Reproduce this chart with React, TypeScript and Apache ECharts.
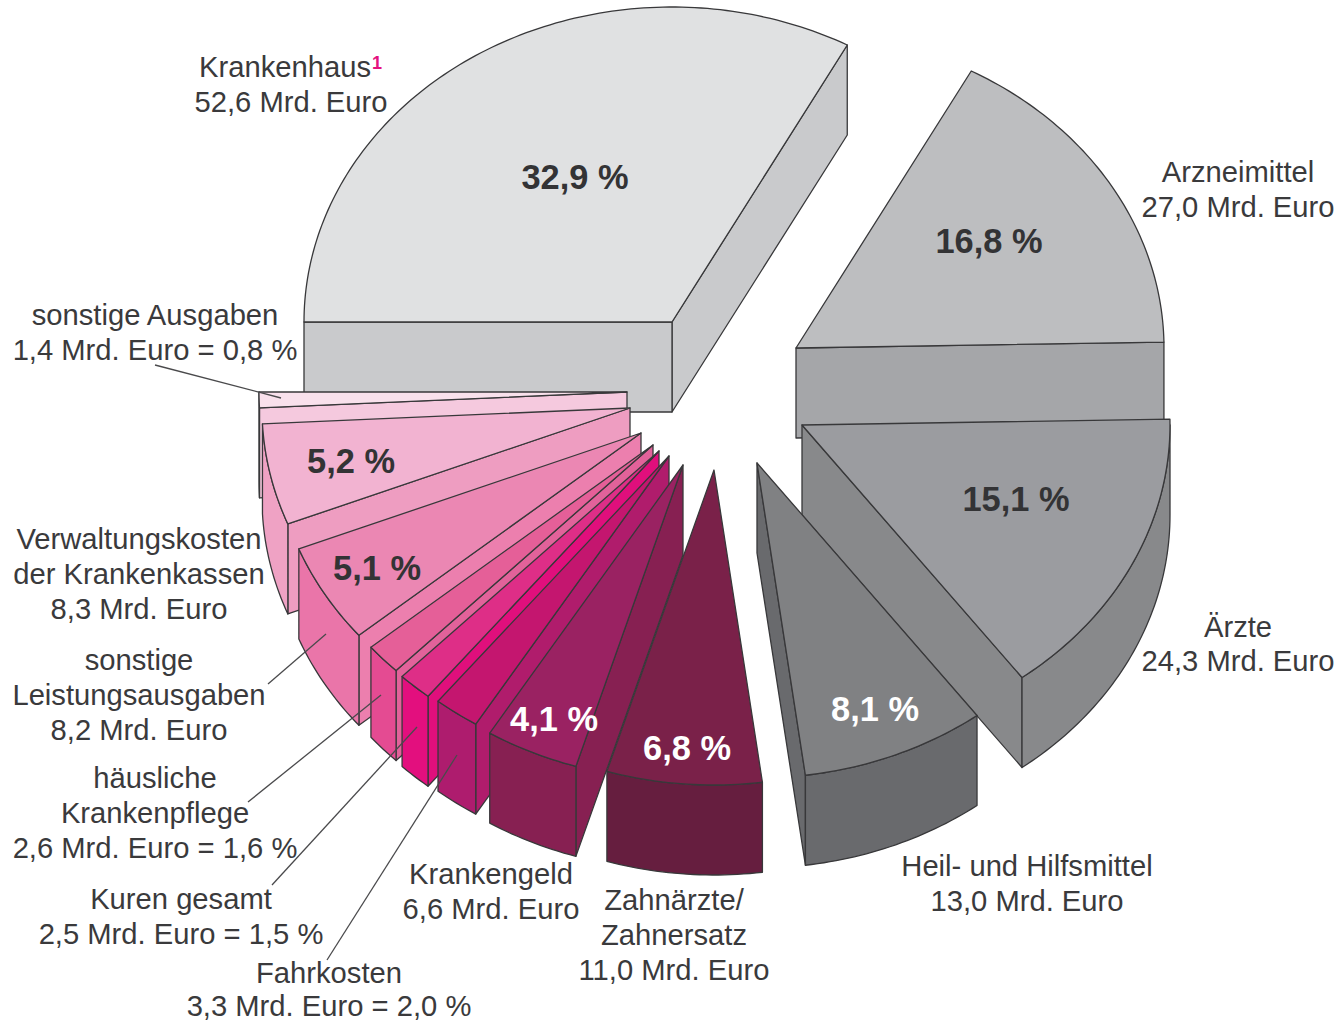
import React, { useEffect, useRef } from "react";
import * as echarts from "echarts";

// Data, clockwise from the 9 o'clock position
const sliceNames = ["Krankenhaus", "Arzneimittel", "Ärzte", "Heil- und Hilfsmittel", "Zahnärzte/Zahnersatz", "Krankengeld", "Fahrkosten", "Kuren gesamt", "häusliche Krankenpflege", "sonstige Leistungsausgaben", "Verwaltungskosten der Krankenkassen", "sonstige Ausgaben"];
const shares = [32.9, 16.8, 15.1, 8.1, 6.8, 4.1, 2.0, 1.5, 1.6, 5.1, 5.2, 0.8];

// Painting order, back to front
const paintOrder = [0, 1, 2, 3, 11, 10, 9, 8, 7, 6, 5, 4];

// Layout of the exploded pie
const RX = 368;
const RY = 315;
const DEPTH = 90;
const apexes = [[672, 322], [796, 348], [802, 425], [757, 463], [714, 470], [683, 465], [669, 456], [659, 451], [653, 445], [641, 433], [630, 408], [627, 392]];
const topColors = ["#e0e1e2", "#bdbec0", "#9b9ca0", "#808183", "#7a2149", "#9a2262", "#c4166f", "#de2e87", "#e55f98", "#eb87b3", "#f2b3d1", "#f9e1ec"];
const wallColors = ["#c9cacc", "#a5a6a9", "#88898b", "#696a6d", "#7f2050", "#872052", "#b01c6c", "#e00f7c", "#e2629a", "#ec7fae", "#ee9dc1", "#f5c9de"];
const rimColors = ["#c9cacc", "#a5a6a9", "#88898b", "#696a6d", "#661e3f", "#872052", "#ae1c6e", "#e30f7e", "#e44b92", "#ea75a9", "#efa2c4", "#f3bcd6"];
const percentPositions = [[575, 177], [989, 241], [1016, 499], [875, 709], [687, 748], [554, 719], null, null, null, [377, 568], [351, 461], null];
const percentColors = ["#333335", "#333335", "#333335", "#ffffff", "#ffffff", "#ffffff", "", "", "", "#333335", "#333335", ""];

// Outside labels: [text, centre x, centre y]
const outerLabels: [string, number, number][] = [
  ["Krankenhaus", 285, 67], ["52,6 Mrd. Euro", 291, 102],
  ["Arzneimittel", 1238, 172], ["27,0 Mrd. Euro", 1238, 207],
  ["Ärzte", 1238, 627], ["24,3 Mrd. Euro", 1238, 661],
  ["Heil- und Hilfsmittel", 1027, 866], ["13,0 Mrd. Euro", 1027, 901],
  ["Zahnärzte/", 674, 900], ["Zahnersatz", 674, 935], ["11,0 Mrd. Euro", 674, 970],
  ["Krankengeld", 491, 874], ["6,6 Mrd. Euro", 491, 909],
  ["Fahrkosten", 329, 973], ["3,3 Mrd. Euro = 2,0 %", 329, 1006],
  ["Kuren gesamt", 181, 899], ["2,5 Mrd. Euro = 1,5 %", 181, 934],
  ["häusliche", 155, 778], ["Krankenpflege", 155, 813], ["2,6 Mrd. Euro = 1,6 %", 155, 848],
  ["sonstige", 139, 660], ["Leistungsausgaben", 139, 695], ["8,2 Mrd. Euro", 139, 730],
  ["Verwaltungskosten", 139, 539], ["der Krankenkassen", 139, 574], ["8,3 Mrd. Euro", 139, 609],
  ["sonstige Ausgaben", 155, 315], ["1,4 Mrd. Euro = 0,8 %", 155, 350],
];
const leaderLines = [
  [155, 365, 281, 398],
  [268, 684, 326, 634],
  [248, 802, 381, 695],
  [272, 885, 417, 727],
  [327, 960, 457, 755],
];

const FONT = '"Liberation Sans", Arial, sans-serif';
const TEXT = "#3a3a3c";
const STROKE = "#38383a";

const cumulative = shares.reduce<number[]>((acc, v) => { acc.push(acc[acc.length - 1] + v); return acc; }, [0]);
// degrees clockwise from north, running from -90 upwards
const angleOf = (i: number) => -90 + (cumulative[i] / 100) * 360;

function rimPoint(apex: number[], deg: number, dy = 0): number[] {
  const r = (deg * Math.PI) / 180;
  return [apex[0] + RX * Math.sin(r), apex[1] - RY * Math.cos(r) + dy];
}
function arcPoints(apex: number[], a0: number, a1: number, dy = 0): number[][] {
  const n = Math.max(2, Math.ceil(Math.abs(a1 - a0)));
  const out: number[][] = [];
  for (let k = 0; k <= n; k++) out.push(rimPoint(apex, a0 + ((a1 - a0) * k) / n, dy));
  return out;
}

function renderSlice(_params: any, api: any) {
  const i = api.value(1) as number;
  const a0 = angleOf(i);
  const a1 = angleOf(i + 1);
  const apex = apexes[i];
  const base = { stroke: STROKE, lineWidth: 1.3, lineJoin: "round" };
  const children: any[] = [];
  const wall = (deg: number) => {
    const p = rimPoint(apex, deg);
    children.push({
      type: "polygon",
      shape: { points: [apex, p, [p[0], p[1] + DEPTH], [apex[0], apex[1] + DEPTH]] },
      style: { ...base, fill: wallColors[i] },
    });
  };
  // a side wall shows when its outward normal points down the screen
  if (a1 > 0 && a1 < 180) wall(a1);
  if (a0 < 0 || a0 > 180) wall(a0);
  // outer rim, only the part turned towards the viewer
  const from = Math.max(a0, 90);
  const to = Math.min(a1, 270);
  if (to > from) {
    const upper = arcPoints(apex, from, to);
    const lower = arcPoints(apex, to, from, DEPTH);
    children.push({ type: "polygon", shape: { points: [...upper, ...lower] }, style: { ...base, fill: rimColors[i] } });
  }
  children.push({
    type: "polygon",
    shape: { points: [apex, ...arcPoints(apex, a0, a1)] },
    style: { ...base, fill: topColors[i] },
  });
  return { type: "group", children };
}

export default function App() {
  const ref = useRef<HTMLDivElement>(null);
  useEffect(() => {
    document.body.style.margin = "0";
    const chart = echarts.init(ref.current!, null, { renderer: "svg" });
    const percentTexts = shares.flatMap((v, i) => {
      const pos = percentPositions[i];
      if (!pos) return [];
      return [{
        type: "text", z: 100,
        style: { text: `${v.toFixed(1).replace(".", ",")} %`, x: pos[0], y: pos[1], fill: percentColors[i], font: `bold 34.4px ${FONT}`, align: "center", verticalAlign: "middle" },
      }];
    });
    const labelTexts = outerLabels.map(([text, x, y]) => ({
      type: "text", z: 100,
      style: { text, x, y, fill: TEXT, font: `29.2px ${FONT}`, align: "center", verticalAlign: "middle" },
    }));
    const lines = leaderLines.map(([x1, y1, x2, y2]) => ({
      type: "line", z: 90,
      shape: { x1, y1, x2, y2 },
      style: { stroke: "#4a4a4c", lineWidth: 1.3 },
    }));
    const sup = { type: "text", z: 100, style: { text: "1", x: 377, y: 63, fill: "#e5127f", font: `bold 18px ${FONT}`, align: "center", verticalAlign: "middle" } };
    chart.setOption({
      animation: false,
      backgroundColor: "#ffffff",
      tooltip: { show: false },
      series: [{
        type: "custom",
        coordinateSystem: "none",
        silent: true,
        renderItem: renderSlice,
        data: paintOrder.map((i) => ({ name: sliceNames[i], value: [shares[i], i] })),
      }],
      graphic: { elements: [...lines, ...percentTexts, ...labelTexts, sup] },
    });
    return () => chart.dispose();
  }, []);
  return <div ref={ref} style={{ width: 1343, height: 1022 }} />;
}
